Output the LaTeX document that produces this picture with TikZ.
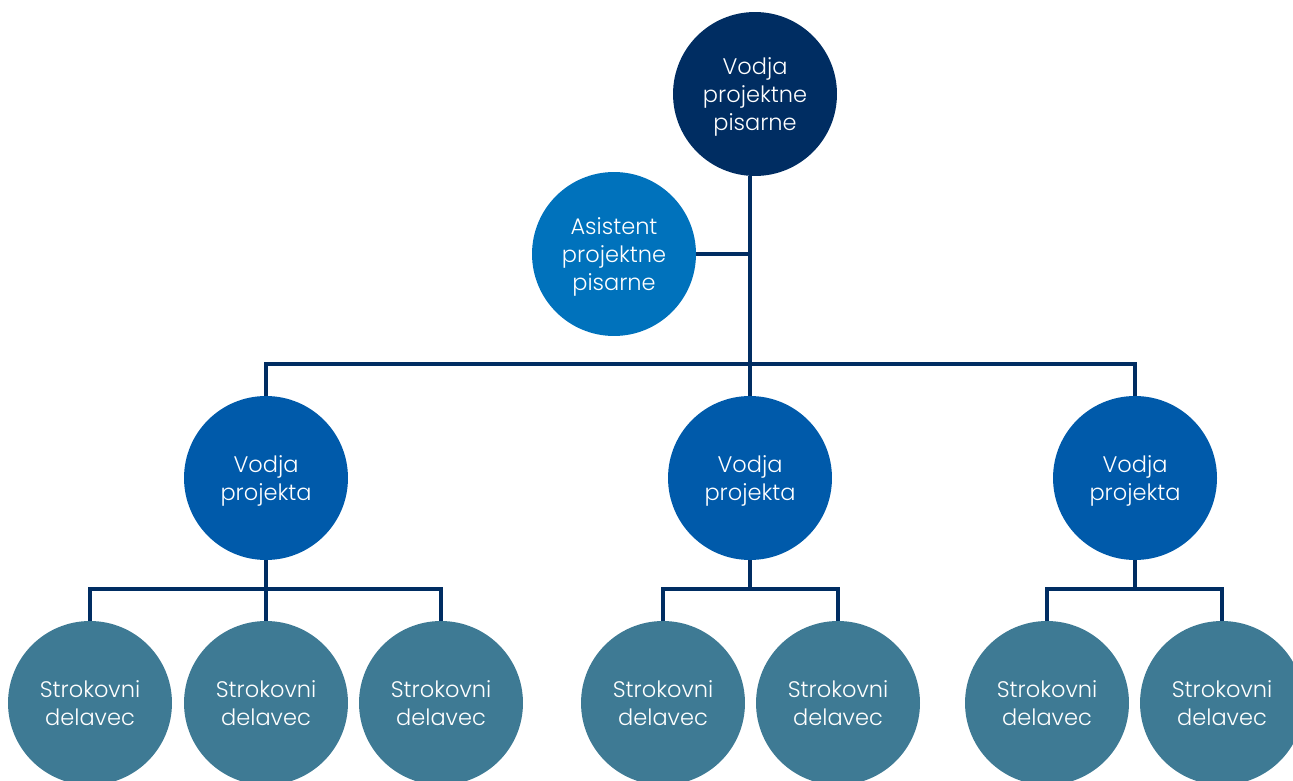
\documentclass[tikz,border=0pt]{standalone}
\usepackage{fontspec}
\setmainfont{Poppins}[UprightFont=* Light]
\usepackage{tikz}
\usetikzlibrary{positioning,calc}
\definecolor{navy}{RGB}{0,45,98}
\definecolor{asistblue}{RGB}{0,114,188}
\definecolor{leadblue}{RGB}{0,90,170}
\definecolor{staffteal}{RGB}{62,122,148}
\newcommand{\topgap}{\rule{0pt}{13.3pt}}
\newcommand{\lowgap}{\rule[-3.5pt]{0pt}{0pt}}

\tikzset{
    orgcircle/.style={circle, minimum size=3.28cm, inner sep=0pt, align=center,
        text=white, font=\fontsize{12.8}{15.9}\selectfont},
    orgline/.style={draw=navy, line width=2.6pt}
}

\begin{document}
\begin{tikzpicture}[x=0.02cm, y=-0.02cm]
\useasboundingbox (0,0) rectangle (1293,780);
\clip (0,0) rectangle (1293,780);
% top of the office
\node[orgcircle, fill=navy] (head) at (755,94) {\topgap Vodja\\projektne\\pisarne};
\node[orgcircle, fill=asistblue] (asist) at (614,254) {\topgap Asistent\\projektne\\pisarne};
% project leads
\foreach \i/\x in {1/266,2/750,3/1135}{
    \node[orgcircle, fill=leadblue] (lead\i) at (\x,478) {\topgap Vodja\\projekta};
}
% staff
\foreach \n/\x in {a/90,b/266,c/441,d/663,e/838,f/1047,g/1222}{
    \node[orgcircle, fill=staffteal] (staff\n) at (\x,703) {\topgap Strokovni\\delavec\lowgap};
}
\coordinate (topbar) at (0,364);
\coordinate (lowbar) at (0,589);
% connectors
\draw[orgline] (head.south -| lead2.north) -- (lead2.north);
\draw[orgline] (asist.east) -- (asist.east -| lead2.north);
\draw[orgline] (lead1.north) -- (lead1.north |- topbar) -- (lead3.north |- topbar) -- (lead3.north);
\draw[orgline] (staffa.north) -- (staffa.north |- lowbar) -- (staffc.north |- lowbar) -- (staffc.north);
\draw[orgline] (lead1.south) -- (staffb.north);
\draw[orgline] (staffd.north) -- (staffd.north |- lowbar) -- (staffe.north |- lowbar) -- (staffe.north);
\draw[orgline] (lead2.south) -- (lead2.south |- lowbar);
\draw[orgline] (stafff.north) -- (stafff.north |- lowbar) -- (staffg.north |- lowbar) -- (staffg.north);
\draw[orgline] (lead3.south) -- (lead3.south |- lowbar);
\end{tikzpicture}
\end{document}
